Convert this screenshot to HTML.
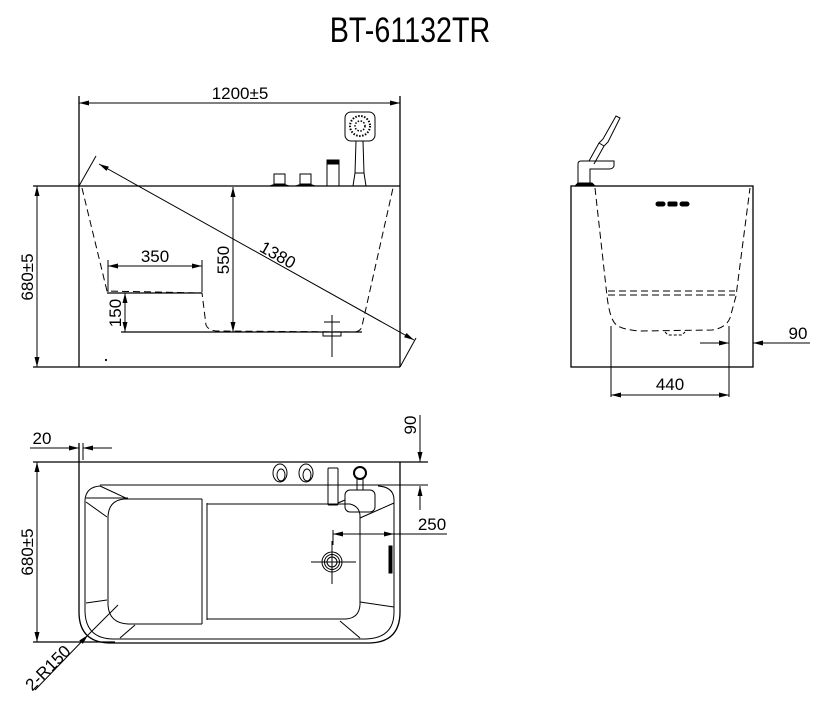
<!DOCTYPE html>
<html><head><meta charset="utf-8"><style>
html,body{margin:0;padding:0;background:#fff;width:821px;height:708px;overflow:hidden}
svg{display:block}
text{font-family:"Liberation Sans Narrow","Liberation Sans",sans-serif;fill:#000}
</style></head><body>
<svg width="821" height="708" viewBox="0 0 821 708" xmlns="http://www.w3.org/2000/svg">
<defs>
<marker id="a" viewBox="0 0 10 6" refX="10" refY="3" markerWidth="10" markerHeight="6" orient="auto-start-reverse" markerUnits="userSpaceOnUse"><path d="M0,0.5 L10,3 L0,5.5z" fill="#000"/></marker>
</defs>
<g stroke="#000" fill="none" stroke-width="1">
<text x="410" y="42" font-size="35" text-anchor="middle" stroke="none" transform="translate(410 0) scale(0.82 1) translate(-410 0)">BT-61132TR</text>

<line x1="33" y1="186" x2="400" y2="186" stroke-width="1.3"/>
<line x1="33" y1="367" x2="400" y2="367" stroke-width="1.3"/>
<line x1="79" y1="96" x2="79" y2="367" stroke-width="1.3"/>
<line x1="400" y1="96" x2="400" y2="367" stroke-width="1.3"/>
<line x1="79" y1="103" x2="400" y2="103" marker-start="url(#a)" marker-end="url(#a)"/>
<text x="240" y="99" font-size="17" text-anchor="middle" stroke="none">1200±5</text>
<line x1="37" y1="186" x2="37" y2="367" marker-start="url(#a)" marker-end="url(#a)"/>
<text transform="translate(33 277) rotate(-90)" font-size="17" text-anchor="middle" stroke="none">680±5</text>
<path d="M82,188 L107,291 L202,293 L206,325 Q208,330 216,331 L355,332 Q361,331 362,326 L393,188" stroke-dasharray="7,4"/>
<line x1="107" y1="293" x2="202" y2="293" stroke-width="1.2"/>
<line x1="108" y1="260" x2="108" y2="292"/>
<line x1="202" y1="260" x2="202" y2="292"/>
<line x1="108" y1="266" x2="202" y2="266" marker-start="url(#a)" marker-end="url(#a)"/>
<text x="155" y="262" font-size="17" text-anchor="middle" stroke="none">350</text>
<line x1="121" y1="332" x2="362" y2="332" stroke-width="1.2"/>
<line x1="125" y1="293" x2="125" y2="332" marker-start="url(#a)" marker-end="url(#a)"/>
<text transform="translate(121 313) rotate(-90)" font-size="17" text-anchor="middle" stroke="none">150</text>
<line x1="233" y1="187" x2="233" y2="332" marker-start="url(#a)" marker-end="url(#a)"/>
<text transform="translate(229 260) rotate(-90)" font-size="17" text-anchor="middle" stroke="none">550</text>
<line x1="99" y1="164" x2="414" y2="340" marker-start="url(#a)" marker-end="url(#a)"/>
<line x1="79" y1="186" x2="96" y2="156"/>
<line x1="400" y1="367" x2="416" y2="338"/>
<text transform="translate(275 260) rotate(29.2)" font-size="17" text-anchor="middle" stroke="none">1380</text>
<rect x="323" y="332" width="18" height="4"/>
<line x1="332" y1="315" x2="332" y2="357"/>
<line x1="324" y1="322" x2="340" y2="322"/>
<circle cx="106" cy="360" r="0.6" fill="#000"/>
<rect x="274" y="174" width="11" height="10"/>
<path d="M270,186 Q279,182 289,186z" fill="#000"/>
<rect x="300" y="174" width="11" height="10"/>
<path d="M296,186 Q305,182 315,186z" fill="#000"/>
<rect x="327" y="160" width="12" height="26"/>
<rect x="327" y="160" width="12" height="4" fill="#000"/>
<rect x="345" y="112" width="30" height="29" rx="6"/>
<circle cx="360" cy="126" r="10" stroke-dasharray="1.5,1.5" stroke-width="2"/>
<circle cx="360" cy="126" r="5" stroke-dasharray="1.5,1.5" stroke-width="1.5"/>
<path d="M356,141 L355,173 L353,186 L366,186 L364,173 L363,141"/>
<line x1="355" y1="173" x2="364" y2="173"/>

<rect x="571" y="186" width="182" height="181" stroke-width="1.3"/>
<path d="M595,188 L607,296 Q610,322 618,326 Q625,330 640,331 L712,330 Q726,328 730,318 L736,296 L750,188" stroke-dasharray="7,4"/>
<line x1="608" y1="291" x2="735" y2="291" stroke-dasharray="7,4"/>
<line x1="608" y1="295" x2="735" y2="295" stroke-dasharray="7,4"/>
<path d="M665,332 L668,335 L682,335 L685,332" stroke-dasharray="3,2"/>
<rect x="656" y="202" width="9" height="4" rx="2" fill="#000"/>
<rect x="668" y="202" width="9" height="4" rx="1" fill="#000"/>
<rect x="680" y="202" width="9" height="4" rx="2" fill="#000"/>
<line x1="611" y1="326" x2="611" y2="397"/>
<line x1="729" y1="326" x2="729" y2="397"/>
<line x1="611" y1="395" x2="729" y2="395" marker-start="url(#a)" marker-end="url(#a)"/>
<text x="670" y="390" font-size="17" text-anchor="middle" stroke="none">440</text>
<line x1="700" y1="343" x2="729" y2="343" marker-end="url(#a)"/>
<line x1="810" y1="343" x2="753" y2="343" marker-end="url(#a)"/>
<text x="798" y="339" font-size="17" text-anchor="middle" stroke="none">90</text>
<path d="M578,184 L578,164 Q578,161 581,161 L614,161 L614,166 Q613,169 609,169 L590,169 L590,184"/>
<path d="M575,186 L595,186 L592,183 L578,183z" fill="#000"/>
<path d="M589,161 L599,143 L603,139 L616,116 L620,118 L608,142 L604,146 L594,164"/>
<line x1="599" y1="143" x2="604" y2="146"/>

<line x1="33" y1="462" x2="428" y2="462" stroke-width="1.3"/>
<line x1="33" y1="642" x2="115" y2="642" stroke-width="1.3"/>
<path d="M79,443 L79,612 Q79,642 109,643 L370,643 Q400,642 400,612 L400,462" stroke-width="1.3"/>
<line x1="83" y1="443" x2="83" y2="460"/>
<line x1="30" y1="448" x2="79" y2="448" marker-end="url(#a)"/>
<line x1="112" y1="448" x2="83" y2="448" marker-end="url(#a)"/>
<text x="42" y="444" font-size="17" text-anchor="middle" stroke="none">20</text>
<line x1="37" y1="462" x2="37" y2="642" marker-start="url(#a)" marker-end="url(#a)"/>
<text transform="translate(33 552) rotate(-90)" font-size="17" text-anchor="middle" stroke="none">680±5</text>
<line x1="100" y1="485" x2="428" y2="485"/>
<path d="M85,612 Q86,638 112,639 L366,639 Q394,638 394,612 L394,500 Q394,487 378,486"/>
<path d="M85,612 L85,500 Q86,487 100,486 L100,486"/>
<path d="M86,498 L128,498"/>
<line x1="100" y1="486" x2="128" y2="499"/>
<line x1="86" y1="502" x2="107" y2="517"/>
<line x1="86" y1="603" x2="107" y2="600"/>
<line x1="120" y1="638" x2="135" y2="625"/>
<line x1="340" y1="621" x2="360" y2="638"/>
<line x1="360" y1="602" x2="394" y2="607"/>
<line x1="360" y1="518" x2="394" y2="503"/>
<path d="M202,499 L125,499 Q108,500 108,518 L108,605 Q109,623 128,624 L202,624"/>
<path d="M202,499 L202,624 M207,503 L207,620"/>
<path d="M207,504 L350,504 Q359,506 360,515 L360,605 Q359,618 346,619 L207,619"/>
<ellipse cx="280" cy="473" rx="7" ry="9"/><ellipse cx="281" cy="475" rx="4" ry="6"/>
<ellipse cx="306" cy="473" rx="7" ry="9"/><ellipse cx="307" cy="475" rx="4" ry="6"/>
<rect x="328" y="468" width="10" height="37" rx="1"/>
<circle cx="360" cy="473" r="6" stroke-width="2"/>
<path d="M357,478 L357,490 M363,478 L363,490"/>
<rect x="345" y="490" width="30" height="22" rx="5"/>
<line x1="338" y1="503" x2="345" y2="500"/>
<line x1="420" y1="415" x2="420" y2="462" marker-end="url(#a)"/>
<line x1="420" y1="510" x2="420" y2="486" marker-end="url(#a)"/>
<text transform="translate(416 425) rotate(-90)" font-size="17" text-anchor="middle" stroke="none">90</text>
<line x1="333" y1="530" x2="333" y2="545"/>
<line x1="333" y1="534" x2="394" y2="534" marker-start="url(#a)" marker-end="url(#a)"/>
<line x1="394" y1="534" x2="447" y2="534"/>
<text x="432" y="530" font-size="17" text-anchor="middle" stroke="none">250</text>
<circle cx="332" cy="562" r="10"/><circle cx="332" cy="562" r="7.5"/><circle cx="332" cy="562" r="5"/>
<line x1="311" y1="562" x2="356" y2="562"/>
<line x1="332" y1="541" x2="332" y2="584"/>
<rect x="389" y="546" width="3" height="27" fill="#000"/>
<line x1="118" y1="605" x2="88" y2="635"/>
<line x1="88" y1="635" x2="35" y2="690" marker-start="url(#a)"/>
<text transform="translate(52 672) rotate(-45)" font-size="17" text-anchor="middle" stroke="none">2-R150</text>
</g>
</svg>
</body></html>
